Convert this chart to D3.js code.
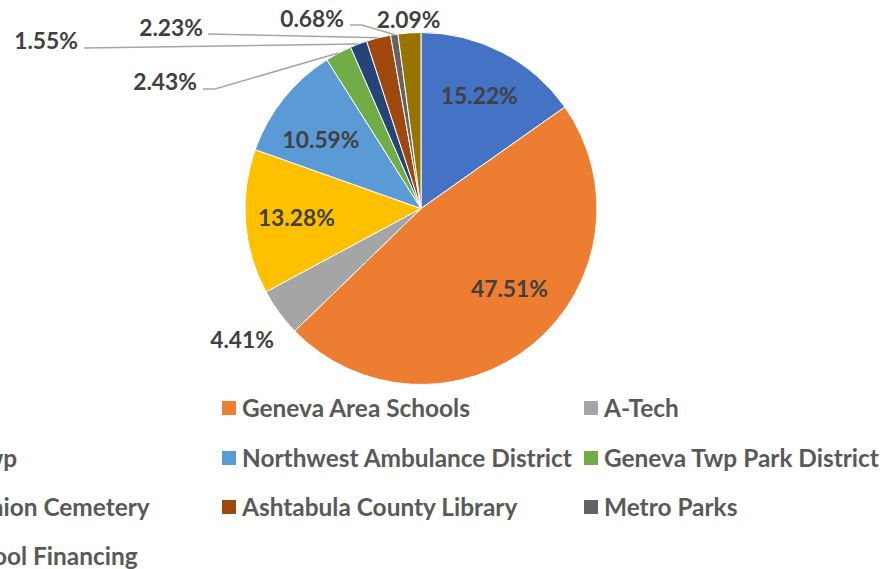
<!DOCTYPE html>
<html>
<head>
<meta charset="utf-8">
<script src="https://cdn.jsdelivr.net/npm/d3@7"></script>
<style>
  html, body { margin: 0; padding: 0; background: #ffffff; overflow: hidden; }
  svg { display: block; }
</style>
</head>
<body>
<svg id="chart" width="883" height="569"></svg>
<script>
// ---- data ----
const categories = [
  "County",
  "Geneva Area Schools",
  "A-Tech",
  "Geneva Twp",
  "Northwest Ambulance District",
  "Geneva Twp Park District",
  "Geneva Union Cemetery",
  "Ashtabula County Library",
  "Metro Parks",
  "Other School Financing"
];
const shares = [15.22, 47.51, 4.41, 13.28, 10.59, 2.43, 1.55, 2.23, 0.68, 2.09];
const colors = ["#4472C4", "#ED7D31", "#A5A5A5", "#FFC000", "#5B9BD5",
                "#70AD47", "#264478", "#9E480E", "#636363", "#997300"];

// ---- layout ----
const W = 883, H = 569;
const cx = 421, cy = 208.5, R = 176;
const FONT = "Lato, 'Open Sans', sans-serif";
const labelColor = "#404040";
const legendColor = "#595959";
const leaderColor = "#A6A6A6";

// label placement rules (by slice index)
const insideLabels = { 0: {rf: 0.72, da: 0}, 1: {rf: 0.68, da: -8}, 3: {rf: 0.71, da: 0}, 4: {rf: 0.69, da: -4} };
const freeOutside = { 2: {rf: 1.26}, 9: {rf: 1.075} };
const leaderLabels = {
  5: {tx: 197, ty: 90, pts: [[203, 89], [215, 89]]},
  6: {tx: 78,  ty: 49, pts: [[84, 48]]},
  7: {tx: 203, ty: 36, pts: [[208, 34]]},
  8: {tx: 344, ty: 27, pts: [[350, 25], [362, 25]]}
};

const svg = d3.select("#chart");

// measure helper to fit substitute font to reference widths
function fitSize(text, target, weight) {
  const t = svg.append("text").attr("font-family", FONT).attr("font-weight", weight)
    .attr("font-size", 100).text(text);
  const w = t.node().getComputedTextLength();
  t.remove();
  return 100 * target / w;
}
const labelSize = fitSize("15.22%", 77, 700);
const legendSize = fitSize("Geneva Area Schools", 228, 700);

const pie = d3.pie().sort(null).value(d => d).startAngle(0).endAngle(2 * Math.PI);
const arcs = pie(shares);
const arc = d3.arc().innerRadius(0).outerRadius(R);

const g = svg.append("g").attr("transform", `translate(${cx},${cy})`);
g.selectAll("path.slice").data(arcs).enter().append("path")
  .attr("class", "slice")
  .attr("d", arc)
  .attr("fill", (d, i) => colors[i])
  .attr("stroke", "#ffffff")
  .attr("stroke-width", 1);

const fmt = d => d.toFixed(2) + "%";
function polar(angle, r) { return [cx + r * Math.sin(angle), cy - r * Math.cos(angle)]; }

const labels = svg.append("g").attr("font-family", FONT).attr("font-weight", 700)
  .attr("font-size", labelSize).attr("fill", labelColor);

arcs.forEach((a, i) => {
  const mid = (a.startAngle + a.endAngle) / 2;
  if (insideLabels[i]) {
    const L = insideLabels[i];
    const [x, y] = polar(mid + L.da * Math.PI / 180, R * L.rf);
    labels.append("text").attr("x", x).attr("y", y).attr("dy", "0.36em")
      .attr("text-anchor", "middle").text(fmt(shares[i]));
  } else if (freeOutside[i]) {
    const [x, y] = polar(mid, R * freeOutside[i].rf);
    labels.append("text").attr("x", x).attr("y", y).attr("dy", "0.36em")
      .attr("text-anchor", "middle").text(fmt(shares[i]));
  } else if (leaderLabels[i]) {
    const L = leaderLabels[i];
    const end = polar(mid, R);
    const pts = L.pts.concat([end]);
    svg.append("path").attr("d", d3.line()(pts)).attr("fill", "none")
      .attr("stroke", leaderColor).attr("stroke-width", 1.5);
    labels.append("text").attr("x", L.tx).attr("y", L.ty)
      .attr("text-anchor", "end").text(fmt(shares[i]));
  }
});
labels.raise();

// ---- legend (3 columns, clipped on the left as in the reference) ----
const colX = [-136, 222, 584];
const rowY = [408, 458, 507, 556];
const sw = 14;
const legend = svg.append("g").attr("font-family", FONT).attr("font-weight", 700)
  .attr("font-size", legendSize).attr("fill", legendColor);
categories.forEach((c, i) => {
  const col = i % 3, row = Math.floor(i / 3);
  const x = colX[col], y = rowY[row];
  legend.append("rect").attr("x", x).attr("y", y - sw / 2).attr("width", sw).attr("height", sw)
    .attr("fill", colors[i]);
  legend.append("text").attr("x", x + sw + 6).attr("y", y).attr("dy", "0.36em").text(c);
});
</script>
</body>
</html>
